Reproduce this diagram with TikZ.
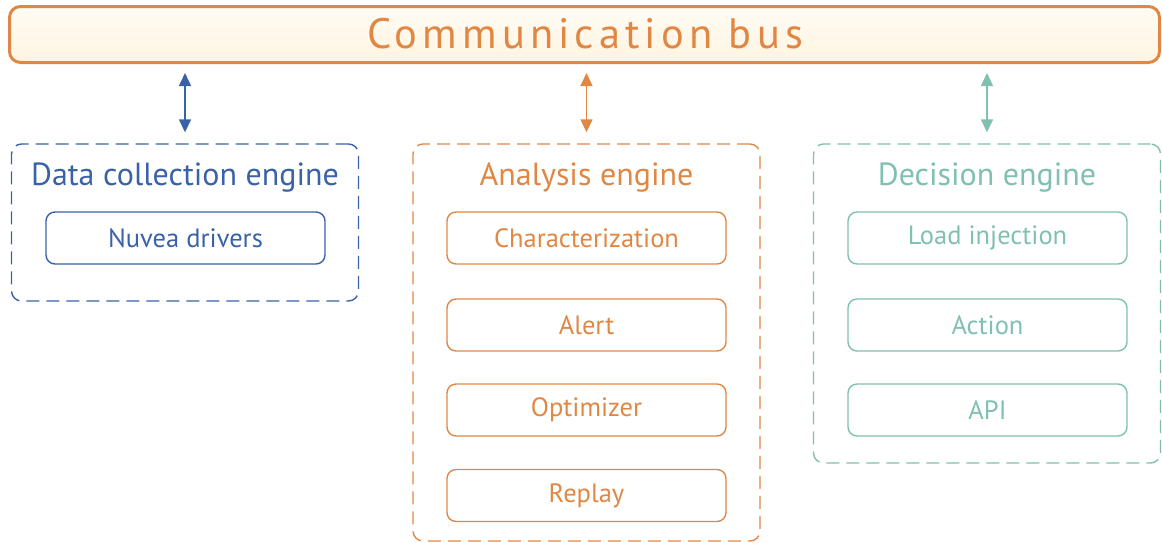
\documentclass[tikz,border=0pt]{standalone}
\usepackage{fontspec}
\setmainfont{PT Sans}
\newfontfamily\busfont[LetterSpace=12]{PT Sans}
\usetikzlibrary{arrows.meta}
\definecolor{cblue}{RGB}{58,98,168}
\definecolor{corange}{RGB}{224,135,68}
\definecolor{cteal}{RGB}{128,192,177}
\definecolor{cbustop}{RGB}{255,252,245}
\definecolor{cbusbot}{RGB}{255,244,224}
\tikzset{
  engine/.style={draw, line width=1.4pt, dash pattern=on 13pt off 7pt, rounded corners=10pt, minimum width=347pt},
  item/.style={draw, line width=1.4pt, rounded corners=9pt, minimum width=279pt, minimum height=52pt, inner sep=0pt, font=\fontsize{26.5}{30}\selectfont},
  title/.style={inner sep=0pt, font=\fontsize{32}{36}\selectfont},
  link/.style={line width=1.5pt, {Triangle[length=13pt,width=12pt]}-{Triangle[length=13pt,width=12pt]}, shorten <=9pt, shorten >=11pt}
}
\begin{document}
\begin{tikzpicture}[x=1pt,y=-1pt]
\useasboundingbox (0,0) rectangle (1162,542);
% bus
\node[draw=corange, line width=3pt, rounded corners=11pt, top color=cbustop, bottom color=cbusbot,
  minimum width=1150pt, minimum height=56pt, inner sep=0pt] (bus) at (584.5,34.5) {};
\node[text=corange, font=\fontsize{42.5}{46}\selectfont\busfont, inner sep=0pt] (bustext) at (585,34) {Communication bus};
% engine frames
\node[engine, draw=cblue, minimum height=157pt] (dce) at (185,222.5) {};
\node[engine, draw=corange, minimum height=397pt] (ae) at (586.5,342.5) {};
\node[engine, draw=cteal, minimum height=319pt] (de) at (987,303.5) {};
% titles
\node[title, text=cblue] (dcet) at (185,178) {Data collection engine};
\node[title, text=corange] (aet) at (586.5,178) {Analysis engine};
\node[title, text=cteal] (det) at (987,178) {Decision engine};
% items
\node[item, draw=cblue, text=cblue] (nd) at (185.5,238) {Nuvea drivers};
\node[item, draw=corange, text=corange] (ch) at (586.5,238) {Characterization};
\node[item, draw=corange, text=corange] (al) at (586.5,325) {Alert};
\node[item, draw=corange, text=corange] (op) at (586.5,410) {Optimizer};
\node[item, draw=corange, text=corange] (rp) at (586.5,495.5) {Replay};
\node[item, draw=cteal, text=cteal] (li) at (987.5,238) {Load injection};
\node[item, draw=cteal, text=cteal] (ac) at (987.5,325) {Action};
\node[item, draw=cteal, text=cteal] (api) at (987.5,410) {API};
% links
\draw[link, cblue] (bus.south -| dce.north) -- (dce.north);
\draw[link, corange] (bus.south -| ae.north) -- (ae.north);
\draw[link, cteal] (bus.south -| de.north) -- (de.north);
\end{tikzpicture}
\end{document}
